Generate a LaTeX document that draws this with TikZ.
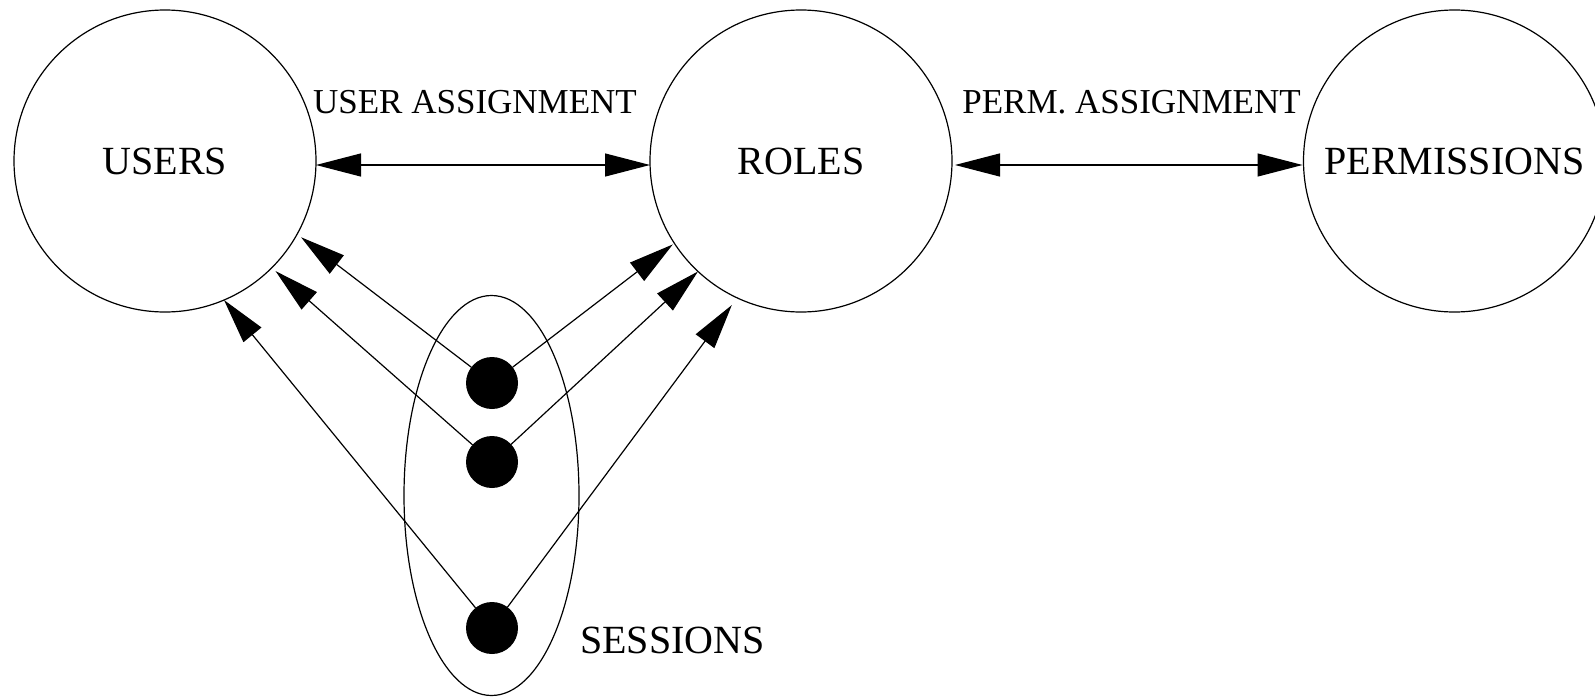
\documentclass[tikz,border=0pt]{standalone}
\usepackage{fontspec}
\setmainfont{Liberation Serif}
\usetikzlibrary{arrows.meta,shapes.geometric}
\begin{document}
\begin{tikzpicture}[x=1pt,y=-1pt,
  setnode/.style={circle,draw,line width=1.2pt,minimum size=302pt,inner sep=0pt,outer sep=0pt,font=\fontsize{40}{48}\selectfont},
  dotnode/.style={circle,fill,minimum size=52pt,inner sep=0pt,outer sep=0pt},
  lbl/.style={font=\fontsize{35}{42}\selectfont,inner sep=0pt},
  arr/.style={line width=1.2pt,-{Triangle[length=45pt,width=23pt]}},
  biarr/.style={line width=1.2pt,{Triangle[length=45pt,width=23pt]}-{Triangle[length=45pt,width=23pt]}}]
\useasboundingbox (0,0) rectangle (1595,696);
\node[setnode] (users) at (165,161) {USERS};
\node[setnode] (roles) at (801,161) {ROLES};
\node[setnode] (perms) at (1454.5,161) {PERMISSIONS};
\node[draw,ellipse,line width=1.2pt,minimum width=175pt,minimum height=400pt,inner sep=0pt] (sess) at (491.5,495.5) {};
\node[dotnode] (d1) at (492,383) {};
\node[dotnode] (d2) at (492,462) {};
\node[dotnode] (d3) at (492,628) {};
\node[lbl] (ua) at (475,102) {USER ASSIGNMENT};
\node[lbl] (pa) at (1131.5,102) {PERM. ASSIGNMENT};
\node[font=\fontsize{40}{48}\selectfont,anchor=west,inner sep=0pt] (sl) at (580,640) {SESSIONS};
\draw[biarr] ([yshift=-4pt]users.east) -- ([yshift=-4pt]roles.west);
\draw[biarr,shorten <=3pt,shorten >=1pt] ([yshift=-4pt]roles.east) -- ([yshift=-4pt]perms.west);
\draw[arr,shorten >=5pt] (d1) -- (users.-29);
\draw[arr,shorten >=5pt] (d2) -- (users.-45);
\draw[arr] (d3) -- (users.-67);
\draw[arr,shorten >=2pt] (d1) -- (roles.213.6);
\draw[arr] (d2) -- (roles.227.3);
\draw[arr,shorten >=9pt] (d3) -- (roles.245.6);
\end{tikzpicture}
\end{document}
